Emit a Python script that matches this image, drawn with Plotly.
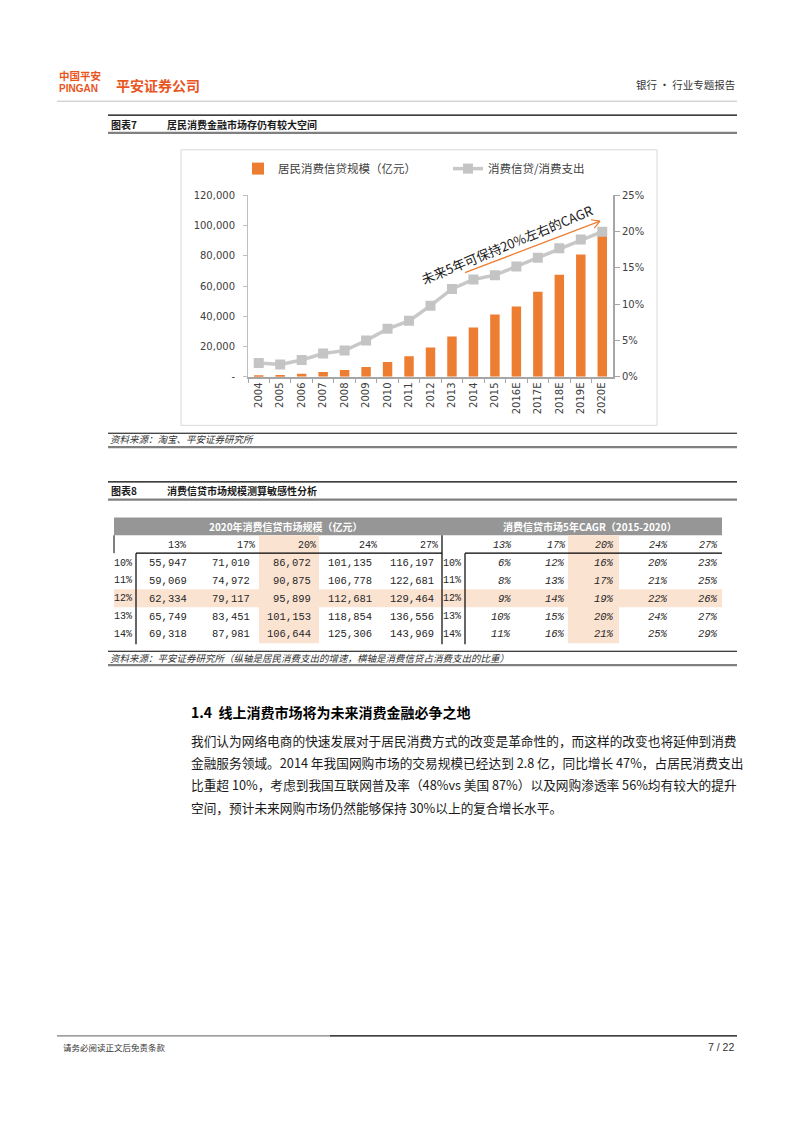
import plotly.graph_objects as go

# ---------------- data ----------------
years = ["2004", "2005", "2006", "2007", "2008", "2009", "2010", "2011", "2012",
         "2013", "2014", "2015", "2016E", "2017E", "2018E", "2019E", "2020E"]
credit_size = [1000, 1100, 2000, 3200, 4400, 6500, 9800, 13500, 19400,
               26600, 32500, 41200, 46500, 56200, 67500, 80800, 95900]
credit_ratio = [1.9, 1.7, 2.3, 3.2, 3.6, 5.0, 6.6, 7.7, 9.8,
                12.1, 13.4, 14.0, 15.2, 16.4, 17.7, 18.9, 20.0]
left_ticks = [0, 20000, 40000, 60000, 80000, 100000, 120000]
left_ticktext = ["-", "20,000", "40,000", "60,000", "80,000", "100,000", "120,000"]
right_ticks = [0, 5, 10, 15, 20, 25]
right_ticktext = ["0%", "5%", "10%", "15%", "20%", "25%"]

share_cols = ["13%", "17%", "20%", "24%", "27%"]
growth_rows = ["10%", "11%", "12%", "13%", "14%"]
size_2020 = [
    [55947, 71010, 86072, 101135, 116197],
    [59069, 74972, 90875, 106778, 122681],
    [62334, 79117, 95899, 112681, 129464],
    [65749, 83451, 101153, 118854, 136556],
    [69318, 87981, 106644, 125306, 143969],
]
cagr_5y = [
    [6, 12, 16, 20, 23],
    [8, 13, 17, 21, 25],
    [9, 14, 19, 22, 26],
    [10, 15, 20, 24, 27],
    [11, 16, 21, 25, 29],
]

paragraph = [
    "我们认为网络电商的快速发展对于居民消费方式的改变是革命性的，而这样的改变也将延伸到消费",
    "金融服务领域。2014 年我国网购市场的交易规模已经达到 2.8 亿，同比增长 47%，占居民消费支出",
    "比重超 10%，考虑到我国互联网普及率（48%vs 美国 87%）以及网购渗透率 56%均有较大的提升",
    "空间，预计未来网购市场仍然能够保持 30%以上的复合增长水平。",
]

# ---------------- helpers ----------------
W, H = 794, 1123
OFF = 8  # page body margin offset
CJK = "Noto Sans CJK SC"
ORANGE = "#ED7D31"
LOGO = "#E8551E"


def X(x):
    return (x - OFF) / W


def Y(y):
    return 1 - (y - OFF) / H


annotations = []
shapes = []


def txt(x, y, s, size=10, color="#262626", xanchor="left", family=CJK, yanchor="middle", angle=0):
    annotations.append(dict(x=X(x), y=Y(y), xref="paper", yref="paper", text=s,
                            showarrow=False, xanchor=xanchor, yanchor=yanchor,
                            textangle=angle,
                            font=dict(size=size, color=color, family=family)))


def line(x0, y0, x1, y1, color="#000", width=1, layer="above"):
    shapes.append(dict(type="line", xref="paper", yref="paper",
                       x0=X(x0), y0=Y(y0), x1=X(x1), y1=Y(y1),
                       line=dict(color=color, width=width), layer=layer))


def rect(x0, y0, x1, y1, fill, lc=None, lw=0, layer="below"):
    shapes.append(dict(type="rect", xref="paper", yref="paper",
                       x0=X(x0), y0=Y(y0), x1=X(x1), y1=Y(y1),
                       fillcolor=fill, line=dict(color=lc or fill, width=lw), layer=layer))


# ---------------- page header ----------------
txt(57, 71, "<b>中国平安</b>", 10.5, LOGO)
txt(57, 84, "<b>PINGAN</b>", 10, LOGO, family="Liberation Sans Narrow, Liberation Sans")
txt(114, 81, "<b>平安证券公司</b>", 14, LOGO)
txt(737, 80, "银行 · 行业专题报告", 10.5, "#333333", xanchor="right")
line(57, 97, 737, 97, "#BFBFBF", 1)

# ---------------- figure 7 title ----------------
line(108, 111, 737, 111, "#000000", 1.2)
txt(109, 120, "<b>图表7</b>", 10, "#1a1a1a")
txt(165, 120, "<b>居民消费金融市场存仍有较大空间</b>", 10, "#1a1a1a")
line(108, 129, 737, 129, "#808080", 2.2)

# chart frame
rect(181, 146, 657, 424, "rgba(0,0,0,0)", "#D9D9D9", 1, layer="below")

# source
line(108, 432, 737, 432, "#000000", 1)
txt(108, 438, "<i>资料来源：淘宝、平安证券研究所</i>", 9.5, "#333333")
line(108, 446, 737, 446, "#808080", 2.2)

# ---------------- figure 8 ----------------
line(108, 481, 737, 481, "#000000", 1.2)
txt(109, 490, "<b>图表8</b>", 10, "#1a1a1a")
txt(165, 490, "<b>消费信贷市场规模测算敏感性分析</b>", 10, "#1a1a1a")
line(108, 499, 737, 499, "#808080", 2.2)

HL = "#FBE3D2"
# header band
rect(114, 517, 722, 535, "#969696")
txt(286, 526, "<b>2020年消费信贷市场规模（亿元）</b>", 10, "#FFFFFF", xanchor="center")
txt(590, 526, "<b>消费信贷市场5年CAGR（2015-2020）</b>", 10, "#FFFFFF", xanchor="center")
# highlight column / row
rect(259, 535, 319, 644, HL)
rect(568, 535, 619, 644, HL)
rect(114, 589.5, 722, 607.5, HL)

# table lines
line(114, 535, 114, 553, "#000", 1)
line(136, 553, 136, 645, "#000", 1.2)
line(136, 553, 442, 553, "#000", 1.2)
line(442, 535, 442, 645, "#000", 1.2)
line(465, 553, 465, 645, "#000", 1.2)
line(465, 553, 722, 553, "#000", 1.2)

MONO = "Liberation Mono"
left_hdr_x = [188, 257, 318, 379, 440]
left_val_x = [189, 252, 313, 374, 436]
right_hdr_x = [514, 568, 616, 670, 720]
right_val_x = [513, 567, 616, 670, 720]
row_y = [563, 581, 599, 617, 635]
hdr_y = 545

for j, c in enumerate(share_cols):
    txt(left_hdr_x[j], hdr_y, c, 10, "#262626", xanchor="right", family=MONO)
    txt(right_hdr_x[j], hdr_y, "<i>" + c + "</i>", 10, "#262626", xanchor="right", family=MONO)

for i, r in enumerate(growth_rows):
    txt(134, row_y[i], r, 10, "#262626", xanchor="right", family=MONO)
    txt(463, row_y[i], r, 10, "#262626", xanchor="right", family=MONO)
    for j in range(5):
        txt(left_val_x[j], row_y[i], f"{size_2020[i][j]:,}", 10.5, "#262626",
            xanchor="right", family=MONO)
        txt(right_val_x[j], row_y[i], f"<i>{cagr_5y[i][j]}%</i>", 10.5, "#262626",
            xanchor="right", family=MONO)

# source 2
line(108, 652, 737, 652, "#000000", 1)
txt(108, 659, "<i>资料来源：平安证券研究所（纵轴是居民消费支出的增速，横轴是消费信贷占消费支出的比重）</i>",
    9.5, "#333333")
line(108, 666, 737, 666, "#808080", 2.2)

# ---------------- section text ----------------
txt(189, 713, "<b>1.4  线上消费市场将为未来消费金融必争之地</b>", 14, "#000000")
for k, s in enumerate(paragraph):
    txt(189, 742 + k * 22.4, s, 12.7, "#1a1a1a")

# ---------------- footer ----------------
line(57, 1040, 330, 1040, "#7F7F7F", 1.2)
line(330, 1040, 737, 1040, "#000000", 1.2)
txt(61, 1051, "请务必阅读正文后免责条款", 8.5, "#333333")
txt(736, 1051, "7 / 22", 10.5, "#333333", xanchor="right", family="Liberation Sans")

# ---------------- chart annotation (CAGR arrow) ----------------
line(465, 270, 600, 218, ORANGE, 1.2)
line(591, 216.6, 600, 218, ORANGE, 1.2)
line(594.3, 225, 600, 218, ORANGE, 1.2)
txt(507, 242, "未来5年可保持20%左右的CAGR", 13, "#1a1a1a", xanchor="center", angle=-22.5)

# ---------------- traces ----------------
fig = go.Figure()
fig.add_trace(go.Bar(x=years, y=credit_size, name="居民消费信贷规模（亿元）",
                     marker=dict(color=ORANGE, line=dict(width=0)), width=0.44,
                     yaxis="y", legend="legend"))
fig.add_trace(go.Scatter(x=years, y=credit_ratio, name="消费信贷/消费支出",
                         mode="lines+markers",
                         line=dict(color="#C8C8C8", width=3.5),
                         marker=dict(symbol="square", size=10, color="#C4C4C4"),
                         yaxis="y2", legend="legend2"))

tickfont = dict(family="DejaVu Sans", size=10, color="#404040")
legfont = dict(family=CJK, size=11.5, color="#404040")
fig.update_layout(
    width=W, height=H,
    margin=dict(l=0, r=0, t=0, b=0),
    paper_bgcolor="white", plot_bgcolor="rgba(0,0,0,0)",
    showlegend=True,
    legend=dict(orientation="h", x=X(238), y=Y(165), xanchor="left", yanchor="middle",
                font=legfont, bgcolor="rgba(0,0,0,0)", itemwidth=30),
    legend2=dict(orientation="h", x=X(448), y=Y(165), xanchor="left", yanchor="middle",
                 font=legfont, bgcolor="rgba(0,0,0,0)", itemwidth=30),
    xaxis=dict(domain=[X(248), X(613)], type="category", range=[-0.5, 16.5],
               tickangle=-90, tickfont=tickfont, showline=True, linecolor="#A6A6A6",
               linewidth=1.5, ticks="outside", ticklen=5, tickcolor="#A6A6A6",
               tickson="boundaries", showgrid=False, zeroline=False, fixedrange=True),
    yaxis=dict(domain=[Y(375), Y(192)], range=[0, 120000], tickvals=left_ticks,
               ticktext=left_ticktext, tickfont=tickfont, showline=True,
               linecolor="#BFBFBF", linewidth=1, ticks="outside", ticklen=4,
               tickcolor="#BFBFBF", showgrid=False, zeroline=False, ticklabelstandoff=6),
    yaxis2=dict(overlaying="y", side="right", range=[0, 25], tickvals=right_ticks,
                ticktext=right_ticktext, tickfont=tickfont, showline=True,
                linecolor="#A6A6A6", linewidth=2, ticks="outside", ticklen=5,
                tickcolor="#A6A6A6", showgrid=False, zeroline=False),
    annotations=annotations,
    shapes=shapes,
)

fig.write_html("out.html")
